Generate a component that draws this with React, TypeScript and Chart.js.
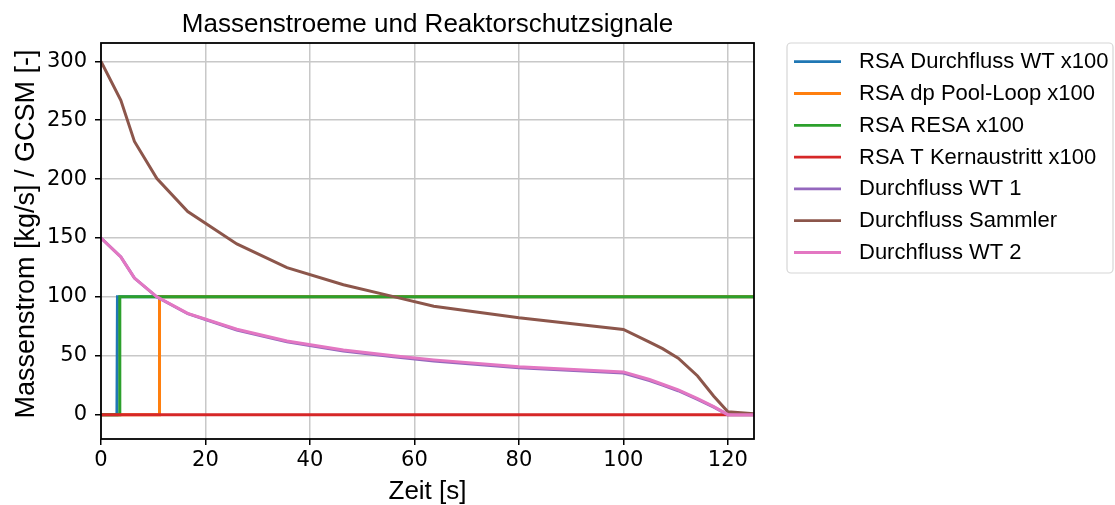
import React, { useEffect, useRef } from "react";
import { Chart, registerables } from "chart.js";

Chart.register(...registerables);

const TITLE = "Massenstroeme und Reaktorschutzsignale";
const X_LABEL = "Zeit [s]";
const Y_LABEL = "Massenstrom [kg/s] / GCSM [-]";
const X_TICKS = [0, 20, 40, 60, 80, 100, 120];
const Y_TICKS = [0, 50, 100, 150, 200, 250, 300];
const X_MIN = 0;
const X_MAX = 125;
const Y_MIN = -20.7;
const Y_MAX = 315.6;

// Time base for the mass flow curves [s]
const TIME_FLOW = [0, 3.8, 6.4, 10.7, 16.6, 26, 35.6, 46.4, 56, 63.7, 80, 100, 105, 107.5, 110.5, 114.2, 117.3, 120, 125];
const WT1 = [150, 134, 116, 99.8, 85.7, 71.9, 61.8, 54, 49.2, 45.6, 39.7, 35.3, 29, 25, 20.3, 12.9, 6.3, 0, 0];
const SAMMLER = [300, 267, 232, 200.5, 172.5, 145, 124.8, 110.3, 100.2, 92.1, 82.2, 72.3, 61.5, 56, 48, 32.8, 15.6, 2.5, 0.8];
const WT2 = [150, 134, 116, 100, 86, 72.5, 62.5, 54.8, 50, 46.5, 40.6, 36.3, 29.8, 25.8, 21, 13.5, 6.8, 0, 0];

// Protection signals (x100)
const TIME_RSA_WT = [0, 3.05, 3.15, 125];
const RSA_WT = [0, 0, 100, 100];
const TIME_RSA_DP = [0, 11.12, 11.2, 125];
const RSA_DP = [0, 0, 100, 100];
const TIME_RSA_RESA = [0, 3.5, 3.6, 125];
const RSA_RESA = [0, 0, 100, 100];
const TIME_RSA_T = [0, 125];
const RSA_T = [0, 0];

const LABELS = [
  "RSA Durchfluss WT x100",
  "RSA dp Pool-Loop x100",
  "RSA RESA x100",
  "RSA T Kernaustritt x100",
  "Durchfluss WT 1",
  "Durchfluss Sammler",
  "Durchfluss WT 2",
];
const COLORS = ["#1f77b4", "#ff7f0e", "#2ca02c", "#d62728", "#9467bd", "#8c564b", "#e377c2"];

const SERIES: [number[], number[]][] = [
  [TIME_RSA_WT, RSA_WT],
  [TIME_RSA_DP, RSA_DP],
  [TIME_RSA_RESA, RSA_RESA],
  [TIME_RSA_T, RSA_T],
  [TIME_FLOW, WT1],
  [TIME_FLOW, SAMMLER],
  [TIME_FLOW, WT2],
];

const ARIAL = "'Liberation Sans', Arial, sans-serif";
const DEJAVU = "'DejaVu Sans', sans-serif";

const decoPlugin = {
  id: "deco",
  afterDatasetsDraw(chart: any) {
    const { ctx, chartArea: a } = chart;
    ctx.save();
    ctx.strokeStyle = "#000";
    ctx.lineWidth = 1.8;
    ctx.strokeRect(a.left, a.top, a.right - a.left, a.bottom - a.top);
    ctx.restore();
  },
  afterDraw(chart: any) {
    const { ctx, chartArea: a } = chart;
    const cx = (a.left + a.right) / 2;
    ctx.save();
    ctx.fillStyle = "#000";
    // title
    ctx.font = `26px ${ARIAL}`;
    ctx.textAlign = "center";
    ctx.textBaseline = "alphabetic";
    ctx.fillText(TITLE, cx, 31.7);
    // x label
    ctx.fillText(X_LABEL, cx, 499);
    // y label
    ctx.save();
    ctx.font = `27px ${ARIAL}`;
    ctx.translate(33.5, 234);
    ctx.rotate(-Math.PI / 2);
    ctx.fillText(Y_LABEL, 0, 0);
    ctx.restore();
    // legend
    const bx = 787, by = 43, bw = 326, bh = 230, r = 4;
    ctx.beginPath();
    ctx.moveTo(bx + r, by);
    ctx.lineTo(bx + bw - r, by);
    ctx.arcTo(bx + bw, by, bx + bw, by + r, r);
    ctx.lineTo(bx + bw, by + bh - r);
    ctx.arcTo(bx + bw, by + bh, bx + bw - r, by + bh, r);
    ctx.lineTo(bx + r, by + bh);
    ctx.arcTo(bx, by + bh, bx, by + bh - r, r);
    ctx.lineTo(bx, by + r);
    ctx.arcTo(bx, by, bx + r, by, r);
    ctx.closePath();
    ctx.fillStyle = "rgba(255,255,255,0.8)";
    ctx.fill();
    ctx.strokeStyle = "#d6d6d6";
    ctx.lineWidth = 1.2;
    ctx.stroke();
    ctx.font = `22px ${ARIAL}`;
    ctx.textAlign = "left";
    ctx.textBaseline = "middle";
    chart.data.datasets.forEach((ds: any, i: number) => {
      const y = 61.7 + i * 31.8;
      ctx.strokeStyle = ds.borderColor;
      ctx.lineWidth = 2.8;
      ctx.beginPath();
      ctx.moveTo(794, y);
      ctx.lineTo(841, y);
      ctx.stroke();
      ctx.fillStyle = "#000";
      ctx.fillText(ds.label, 859, y + 0.5);
    });
    ctx.restore();
  },
};

export default function App() {
  const ref = useRef<HTMLCanvasElement | null>(null);
  useEffect(() => {
    document.body.style.margin = "0";
    const canvas = ref.current!;
    const n = SERIES.length;
    const chart = new Chart(canvas, {
      type: "line",
      data: {
        datasets: SERIES.map(([xs, ys], i) => ({
          label: LABELS[i],
          data: xs.map((x, k) => ({ x, y: ys[k] })),
          borderColor: COLORS[i],
          backgroundColor: COLORS[i],
          borderWidth: 3,
          pointRadius: 0,
          tension: 0,
          fill: false,
          order: n - 1 - i,
        })),
      },
      options: {
        animation: false,
        responsive: false,
        devicePixelRatio: 1,
        layout: { padding: { left: 0, top: 43, right: 361, bottom: 0 } },
        plugins: {
          legend: { display: false },
          title: { display: false },
          tooltip: { enabled: false },
        },
        scales: {
          x: {
            type: "linear",
            min: X_MIN,
            max: X_MAX,
            afterBuildTicks: (s: any) => {
              s.ticks = X_TICKS.map((v) => ({ value: v }));
            },
            afterFit: (s: any) => {
              s.height = 66;
            },
            ticks: {
              font: { family: DEJAVU, size: 21 },
              color: "#000",
              padding: 3,
              maxRotation: 0,
              autoSkip: false,
              callback: (v: any) => String(v),
            },
            grid: {
              color: "#c8c8c8",
              lineWidth: 1.5,
              tickColor: "#000",
              tickLength: 6,
              tickWidth: 1.5,
            },
            border: { display: false },
          },
          y: {
            type: "linear",
            min: Y_MIN,
            max: Y_MAX,
            afterBuildTicks: (s: any) => {
              s.ticks = Y_TICKS.map((v) => ({ value: v }));
            },
            afterFit: (s: any) => {
              s.width = 101;
            },
            ticks: {
              font: { family: DEJAVU, size: 21 },
              color: "#000",
              padding: 8,
              autoSkip: false,
              callback: (v: any) => String(v),
            },
            grid: {
              color: "#c8c8c8",
              lineWidth: 1.5,
              tickColor: "#000",
              tickLength: 6,
              tickWidth: 1.5,
            },
            border: { display: false },
          },
        },
      },
      plugins: [decoPlugin],
    });
    return () => chart.destroy();
  }, []);
  return <canvas ref={ref} width={1115} height={505} style={{ display: "block" }} />;
}
